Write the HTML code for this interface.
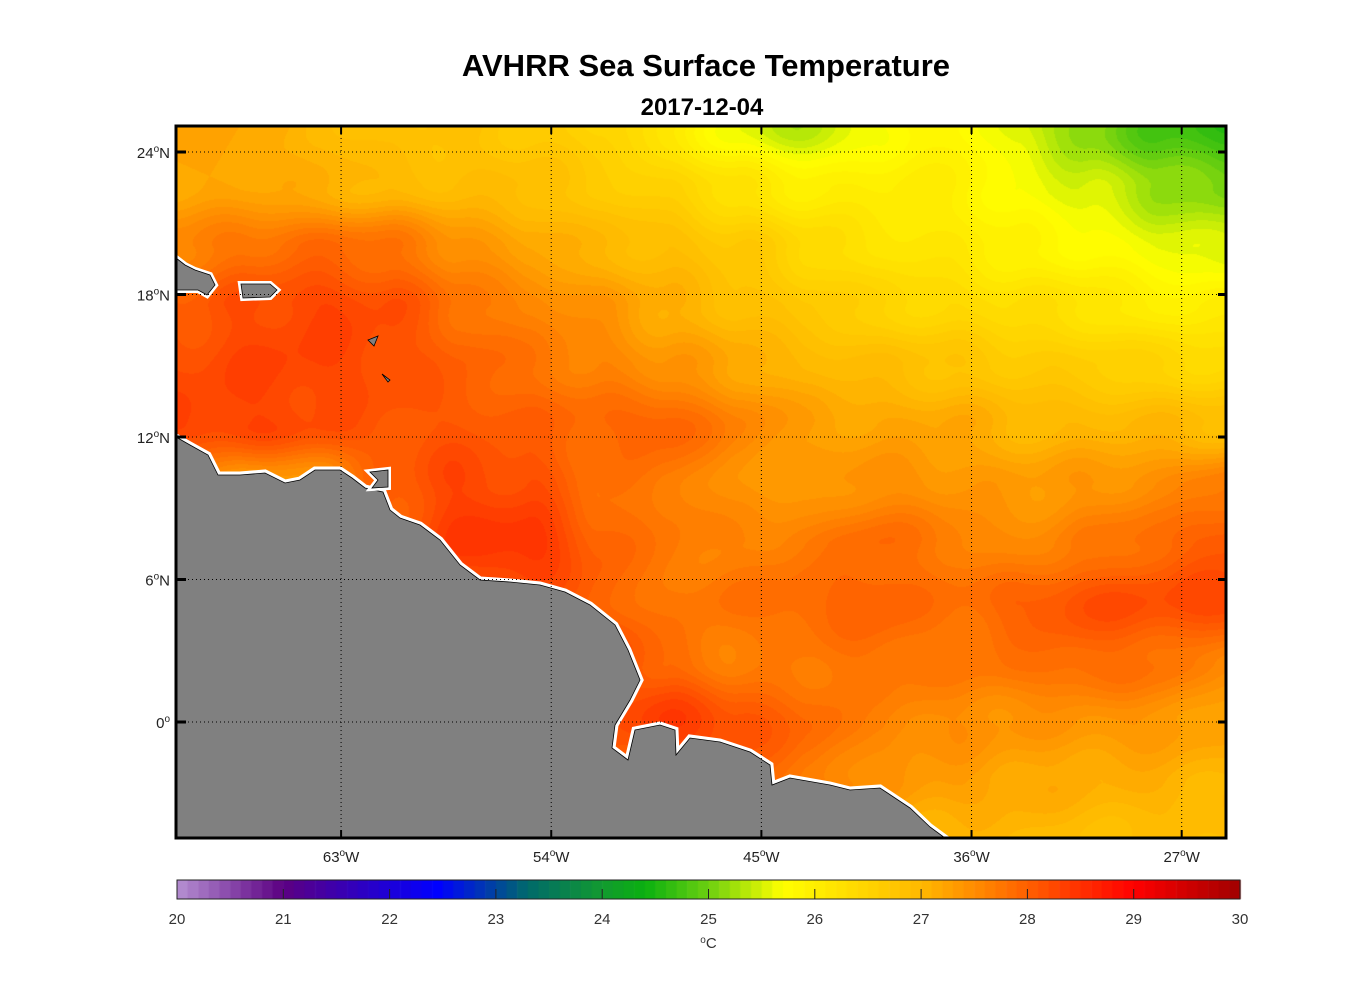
<!DOCTYPE html>
<html><head><meta charset="utf-8">
<style>
html,body{margin:0;padding:0;background:#fff;width:1356px;height:1000px;overflow:hidden;font-family:"Liberation Sans",Arial,sans-serif;}
#wrap{position:relative;width:1356px;height:1000px;}
canvas{position:absolute;left:0;top:0;}
svg{position:absolute;left:0;top:0;}
</style></head>
<body>
<div id="wrap">
<canvas id="field" width="1356" height="1000"></canvas>
<svg id="ov" width="1356" height="1000"></svg>
</div>
<script>
// ---- data ----
const lons = [-70,-67,-64,-61,-58,-55,-52,-49,-46,-43,-40,-37,-34,-31,-28,-25];
const lats = [25,22.5,20,17.5,15,12.5,10,7.5,5,2.5,0,-2.5,-5];
const sstR25  = [27.2,27.2,27.0,26.8,26.8,26.7,26.5,26.1,25.6,25.3,25.7,25.9,25.5,25.1,24.8,24.6];
const sstR22  = [27.2,27.2,27.1,27.0,26.9,26.9,26.7,26.5,26.2,26.0,26.0,26.0,25.7,25.5,25.2,25.1];
const sstR20  = [27.6,27.8,27.9,27.8,27.5,27.2,27.0,26.9,26.7,26.4,26.2,26.1,25.9,25.8,25.6,25.5];
const sstR17  = [28.0,28.2,28.3,28.2,27.8,27.6,27.4,27.1,26.9,26.7,26.5,26.4,26.3,26.2,26.0,26.0];
const sstR15  = [28.2,28.3,28.3,28.2,28.0,27.8,27.6,27.4,27.2,27.0,26.9,26.8,26.7,26.6,26.5,26.4];
const sstR12  = [28.3,28.3,28.2,28.1,28.1,28.0,27.9,28.0,27.6,27.3,27.2,27.2,27.0,27.0,27.0,26.9];
const sstR10  = [27.6,27.3,27.4,28.0,28.3,28.2,27.8,27.7,27.4,27.3,27.5,27.4,27.3,27.4,27.5,27.7];
const sstR7   = [27.8,27.8,27.8,28.0,28.4,28.5,28.0,27.7,27.6,27.7,27.9,27.7,27.5,27.7,27.9,28.1];
const sstR5   = [27.8,27.8,27.8,27.8,28.0,28.2,28.0,27.7,27.8,27.9,28.0,27.8,28.0,28.2,28.2,28.3];
const sstR2   = [27.8,27.8,27.8,27.8,28.0,28.2,28.4,27.9,27.6,27.7,27.8,27.7,27.8,27.9,27.8,27.5];
const sstR0   = [27.8,27.8,27.8,27.8,27.8,27.9,28.1,28.4,28.2,27.9,27.6,27.5,27.4,27.4,27.4,27.2];
const sstRm2  = [27.8,27.8,27.8,27.8,27.8,27.8,27.9,28.0,28.0,27.7,27.4,27.3,27.2,27.1,27.1,27.0];
const sstRm5  = [27.6,27.6,27.6,27.6,27.6,27.6,27.6,27.6,27.3,27.2,27.1,27.0,27.0,26.9,26.9,26.9];
const lonTicks = [-63,-54,-45,-36,-27];
const lonLabels = ["63","54","45","36","27"];
const latTicks = [24,18,12,6,0];
const latLabels = ["24","18","12","6","0"];
const cbTicks = [20,21,22,23,24,25,26,27,28,29,30];
const cmapVals = [20,21,22.45,23.3,24.0,24.4,25.0,25.7,27.0,28.0,29.0,30.0];
const cmapCols = ["#b590d2","#5c0082","#0000ff","#006a6a","#129a30","#0ab010","#6cd010","#ffff00","#ffb800","#ff6000","#ff0000","#a00000"];

const grid = [sstR25,sstR22,sstR20,sstR17,sstR15,sstR12,sstR10,sstR7,sstR5,sstR2,sstR0,sstRm2,sstRm5];

// ---- axes ----
const X0=176,X1=1226,Y0=126,Y1=838;
function xOf(lon){return 176+(lon+70.07)*23.35;}
function yOf(lat){return 722-23.75*lat;}
function lonOf(x){return (x-176)/23.35-70.07;}
function latOf(y){return (722-y)/23.75;}
const CB0=177,CB1=1240,CBY=880,CBH=19;
function cbX(v){return CB0+(v-20)/10*(CB1-CB0);}

function hex(h){return [parseInt(h.substr(1,2),16),parseInt(h.substr(3,2),16),parseInt(h.substr(5,2),16)];}
const cc=cmapCols.map(hex);
function color(v){
  v=Math.floor(v*10)/10+0.05;
  if(v<=cmapVals[0])return cc[0];
  for(let i=1;i<cmapVals.length;i++){
    if(v<=cmapVals[i]){const t=(v-cmapVals[i-1])/(cmapVals[i]-cmapVals[i-1]);
      return [0,1,2].map(k=>Math.round(cc[i-1][k]+t*(cc[i][k]-cc[i-1][k])));}
  }
  return cc[cc.length-1];
}
function sample(lon,lat){
  let fx=(lon-lons[0])/3, fy=(lats[0]-lat)/2.5;
  fx=Math.max(0,Math.min(lons.length-1.0001,fx)); fy=Math.max(0,Math.min(lats.length-1.0001,fy));
  const i=Math.floor(fx),j=Math.floor(fy),tx=fx-i,ty=fy-j;
  const sx=tx*tx*(3-2*tx), sy=ty*ty*(3-2*ty);
  const a=grid[j][i],b=grid[j][i+1],c=grid[j+1][i],d=grid[j+1][i+1];
  return a*(1-sx)*(1-sy)+b*sx*(1-sy)+c*(1-sx)*sy+d*sx*sy;
}
const cv=document.getElementById('field');
const ctx=cv.getContext('2d');
const W=X1-X0,H=Y1-Y0;
const img=ctx.createImageData(W,H);
for(let y=0;y<H;y++){
  const la=latOf(Y0+y);
  for(let x=0;x<W;x++){
    const lo=lonOf(X0+x);
    let v=sample(lo,la)+0.08*Math.sin(x*0.05+y*0.03)*Math.cos(y*0.045-x*0.02);
    const c=color(v),p=(y*W+x)*4;
    img.data[p]=c[0];img.data[p+1]=c[1];img.data[p+2]=c[2];img.data[p+3]=255;
  }
}
ctx.putImageData(img,X0,Y0);
// colorbar
for(let v=20;v<30-1e-6;v+=0.1){
  const c=color(v+0.001);
  ctx.fillStyle='rgb('+c.join(',')+')';
  ctx.fillRect(cbX(v),CBY,cbX(v+0.1)-cbX(v)+0.6,CBH);
}

const NS='http://www.w3.org/2000/svg';
const svg=document.getElementById('ov');
function el(tag,attrs,parent){const e=document.createElementNS(NS,tag);for(const k in attrs)e.setAttribute(k,attrs[k]);(parent||svg).appendChild(e);return e;}

// land
const land=el('path',{d:"M176,437 L190,445 L208,455 L218,475 L240,475 L265,473 L285,483 L300,480 L315,470 L340,470 L352,478 L365,488 L383,492 L390,510 L400,518 L420,525 L440,540 L460,565 L480,580 L510,582 L540,585 L565,592 L590,605 L615,625 L628,650 L640,680 L630,700 L615,725 L612,748 L628,760 L635,730 L660,725 L675,730 L676,755 L690,738 L720,742 L750,752 L770,765 L772,785 L790,778 L830,785 L850,790 L880,788 L910,808 L930,827 L945,838 L176,838 Z",fill:'#808080',stroke:'#fff','stroke-width':7,'stroke-linejoin':'miter'});


const landLine=el('path',{d:land.getAttribute('d'),fill:'#808080',stroke:'#000','stroke-width':0.8});


const isl=[
 "M176,258 L185,265 L195,270 L210,275 L215,285 L207,295 L198,290 L176,290 Z",
 "M241,284 L270,284 L277,290 L270,297 L243,298 Z",
 "M370,472 L388,470 L388,487 L372,488 L378,480 Z",
 "M368,340 L378,336 L374,346 Z",
 "M382,374 L390,380 L388,382 Z"];
isl.forEach((d,i)=>{
  const w=el('path',{d:d,fill:'#808080',stroke:i<3?'#fff':'none','stroke-width':6});
  
  
  const p=el('path',{d:d,fill:'#808080',stroke:'#000','stroke-width':0.8});
  
  
});

// grid lines and ticks
lonTicks.forEach((lo,i)=>{
  const x=xOf(lo);
  const g=el('line',{x1:x,y1:Y0,x2:x,y2:Y1,stroke:'#000','stroke-width':1,'stroke-dasharray':'1,3'});
  
  
  el('line',{x1:x,y1:Y0,x2:x,y2:Y0+8,stroke:'#000','stroke-width':2});
  el('line',{x1:x,y1:Y1,x2:x,y2:Y1-8,stroke:'#000','stroke-width':2});
  const t=el('text',{x:x,y:862,'text-anchor':'middle','font-size':15,fill:'#222'});
  
  
  t.innerHTML=lonLabels[i]+'<tspan dy="-6" font-size="10">o</tspan><tspan dy="6">W</tspan>';
});
latTicks.forEach((la,i)=>{
  const y=yOf(la);
  const g=el('line',{x1:X0,y1:y,x2:X1,y2:y,stroke:'#000','stroke-width':1,'stroke-dasharray':'1,3'});
  
  
  el('line',{x1:X0,y1:y,x2:X0+10,y2:y,stroke:'#000','stroke-width':3});
  el('line',{x1:X1,y1:y,x2:X1-8,y2:y,stroke:'#000','stroke-width':3});
  const t=el('text',{x:170,y:y+6,'text-anchor':'end','font-size':15,fill:'#222'});
  
  
  t.innerHTML=latLabels[i]+'<tspan dy="-6" font-size="10">o</tspan>'+(la!==0?'<tspan dy="6">N</tspan>':'');
});
const fr=el('rect',{x:X0,y:Y0,width:W,height:H,fill:'none',stroke:'#000','stroke-width':3});



// colorbar frame and ticks
const cbf=el('rect',{x:CB0,y:CBY,width:CB1-CB0,height:CBH,fill:'none',stroke:'#222','stroke-width':1});


cbTicks.forEach(v=>{
  const x=cbX(v);
  if(v>20&&v<30) el('line',{x1:x,y1:CBY+CBH,x2:x,y2:CBY+CBH-10,stroke:'#222','stroke-width':1});
  const t=el('text',{x:x,y:924,'text-anchor':'middle','font-size':15,fill:'#333'});
  
  
  t.textContent=v;
});
const un=el('text',{x:cbX(25),y:948,'text-anchor':'middle','font-size':15,fill:'#333'});


un.innerHTML='<tspan dy="-5" font-size="10">o</tspan><tspan dy="5">C</tspan>';

const ti=el('text',{x:706,y:76,'text-anchor':'middle','font-size':31,'font-weight':'bold',fill:'#000'});


ti.textContent='AVHRR Sea Surface Temperature';
const st=el('text',{x:702,y:115,'text-anchor':'middle','font-size':24,'font-weight':'bold',fill:'#000'});


st.textContent='2017-12-04';
</script>
</body></html>
